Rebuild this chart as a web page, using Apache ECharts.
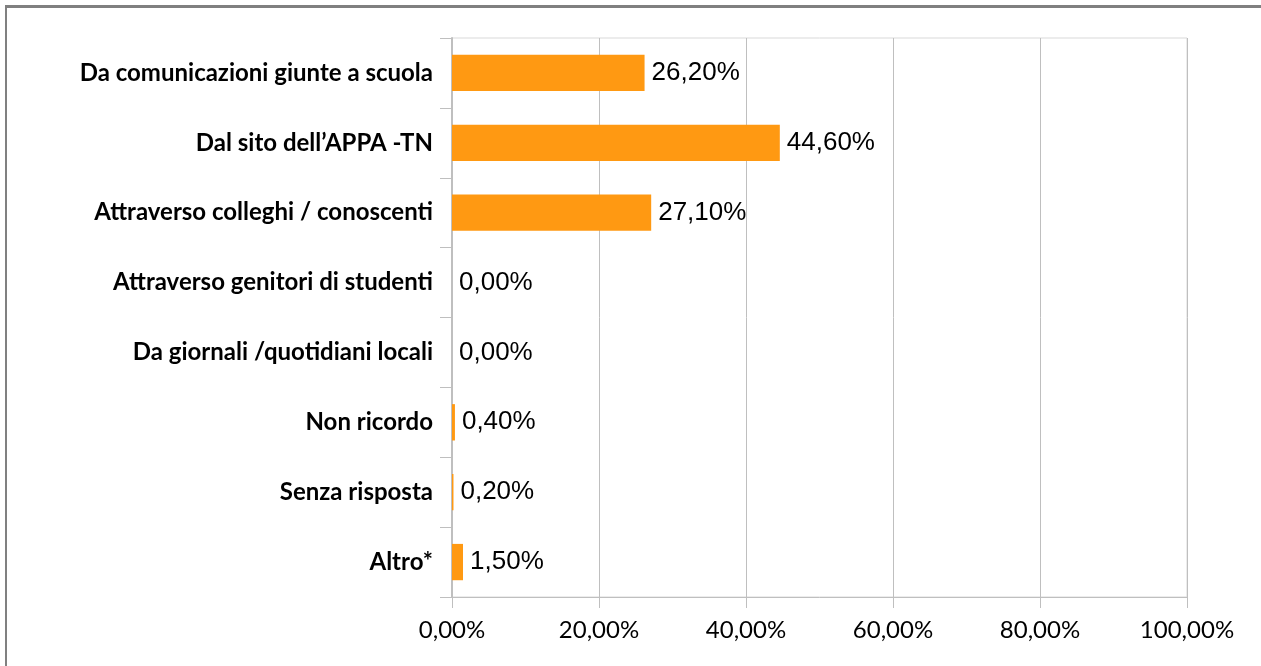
<!DOCTYPE html>
<html lang="it">
<head>
<meta charset="UTF-8">
<title>Come è venuto a conoscenza</title>
<script src="https://cdn.jsdelivr.net/npm/echarts@6/dist/echarts.min.js"></script>
<style>
    html, body { margin: 0; padding: 0; background: #fff; }
    #frame {
        position: absolute; left: 5px; top: 5px; width: 1256px; height: 661px;
        border-top: 3px solid #808080; border-left: 2px solid #808080;
        box-sizing: border-box;
    }
    #chart { position: absolute; left: 0; top: 0; width: 1261px; height: 666px; }
</style>
</head>
<body>
<div id="frame"></div>
<div id="chart"></div>
<script>
    // categorie dall'alto verso il basso
    const categories = [
        'Da comunicazioni giunte a scuola',
        'Dal sito dell\u2019APPA -TN',
        'Attraverso colleghi / conoscenti',
        'Attraverso genitori di studenti',
        'Da giornali /quotidiani locali',
        'Non ricordo',
        'Senza risposta',
        'Altro*'
    ];
    const values = [26.2, 44.6, 27.1, 0.0, 0.0, 0.4, 0.2, 1.5];

    const fmt = v => v.toFixed(2).replace('.', ',') + '%';

    const chart = echarts.init(document.getElementById('chart'));
    chart.setOption({
        animation: false,
        grid: {
            left: 452, right: 74, top: 38, bottom: 69,
            show: true, borderColor: '#d9d9d9', borderWidth: 1
        },
        xAxis: {
            type: 'value', min: 0, max: 100, interval: 20,
            axisLine: { show: true, lineStyle: { color: '#bfbfbf', width: 1 } },
            axisTick: { show: true, length: 11, lineStyle: { color: '#bfbfbf' } },
            splitLine: { lineStyle: { color: '#bfbfbf', width: 1 } },
            axisLabel: {
                formatter: fmt, color: '#000', fontSize: 24,
                fontFamily: 'Lato', margin: 21
            }
        },
        yAxis: {
            type: 'category', data: categories, inverse: true,
            axisLine: { show: true, lineStyle: { color: '#bfbfbf', width: 2 } },
            axisTick: { show: true, length: 12, lineStyle: { color: '#bfbfbf' } },
            axisLabel: {
                color: '#000', fontSize: 24, fontWeight: 'bold',
                fontFamily: 'Lato', margin: 19
            }
        },
        series: [{
            type: 'bar', data: values, barWidth: '52%',
            itemStyle: { color: '#ff9912' },
            label: {
                show: true, position: 'right', distance: 7,
                formatter: p => fmt(p.value),
                color: '#000', fontSize: 26, fontFamily: 'Liberation Sans'
            }
        }]
    });
</script>
</body>
</html>
